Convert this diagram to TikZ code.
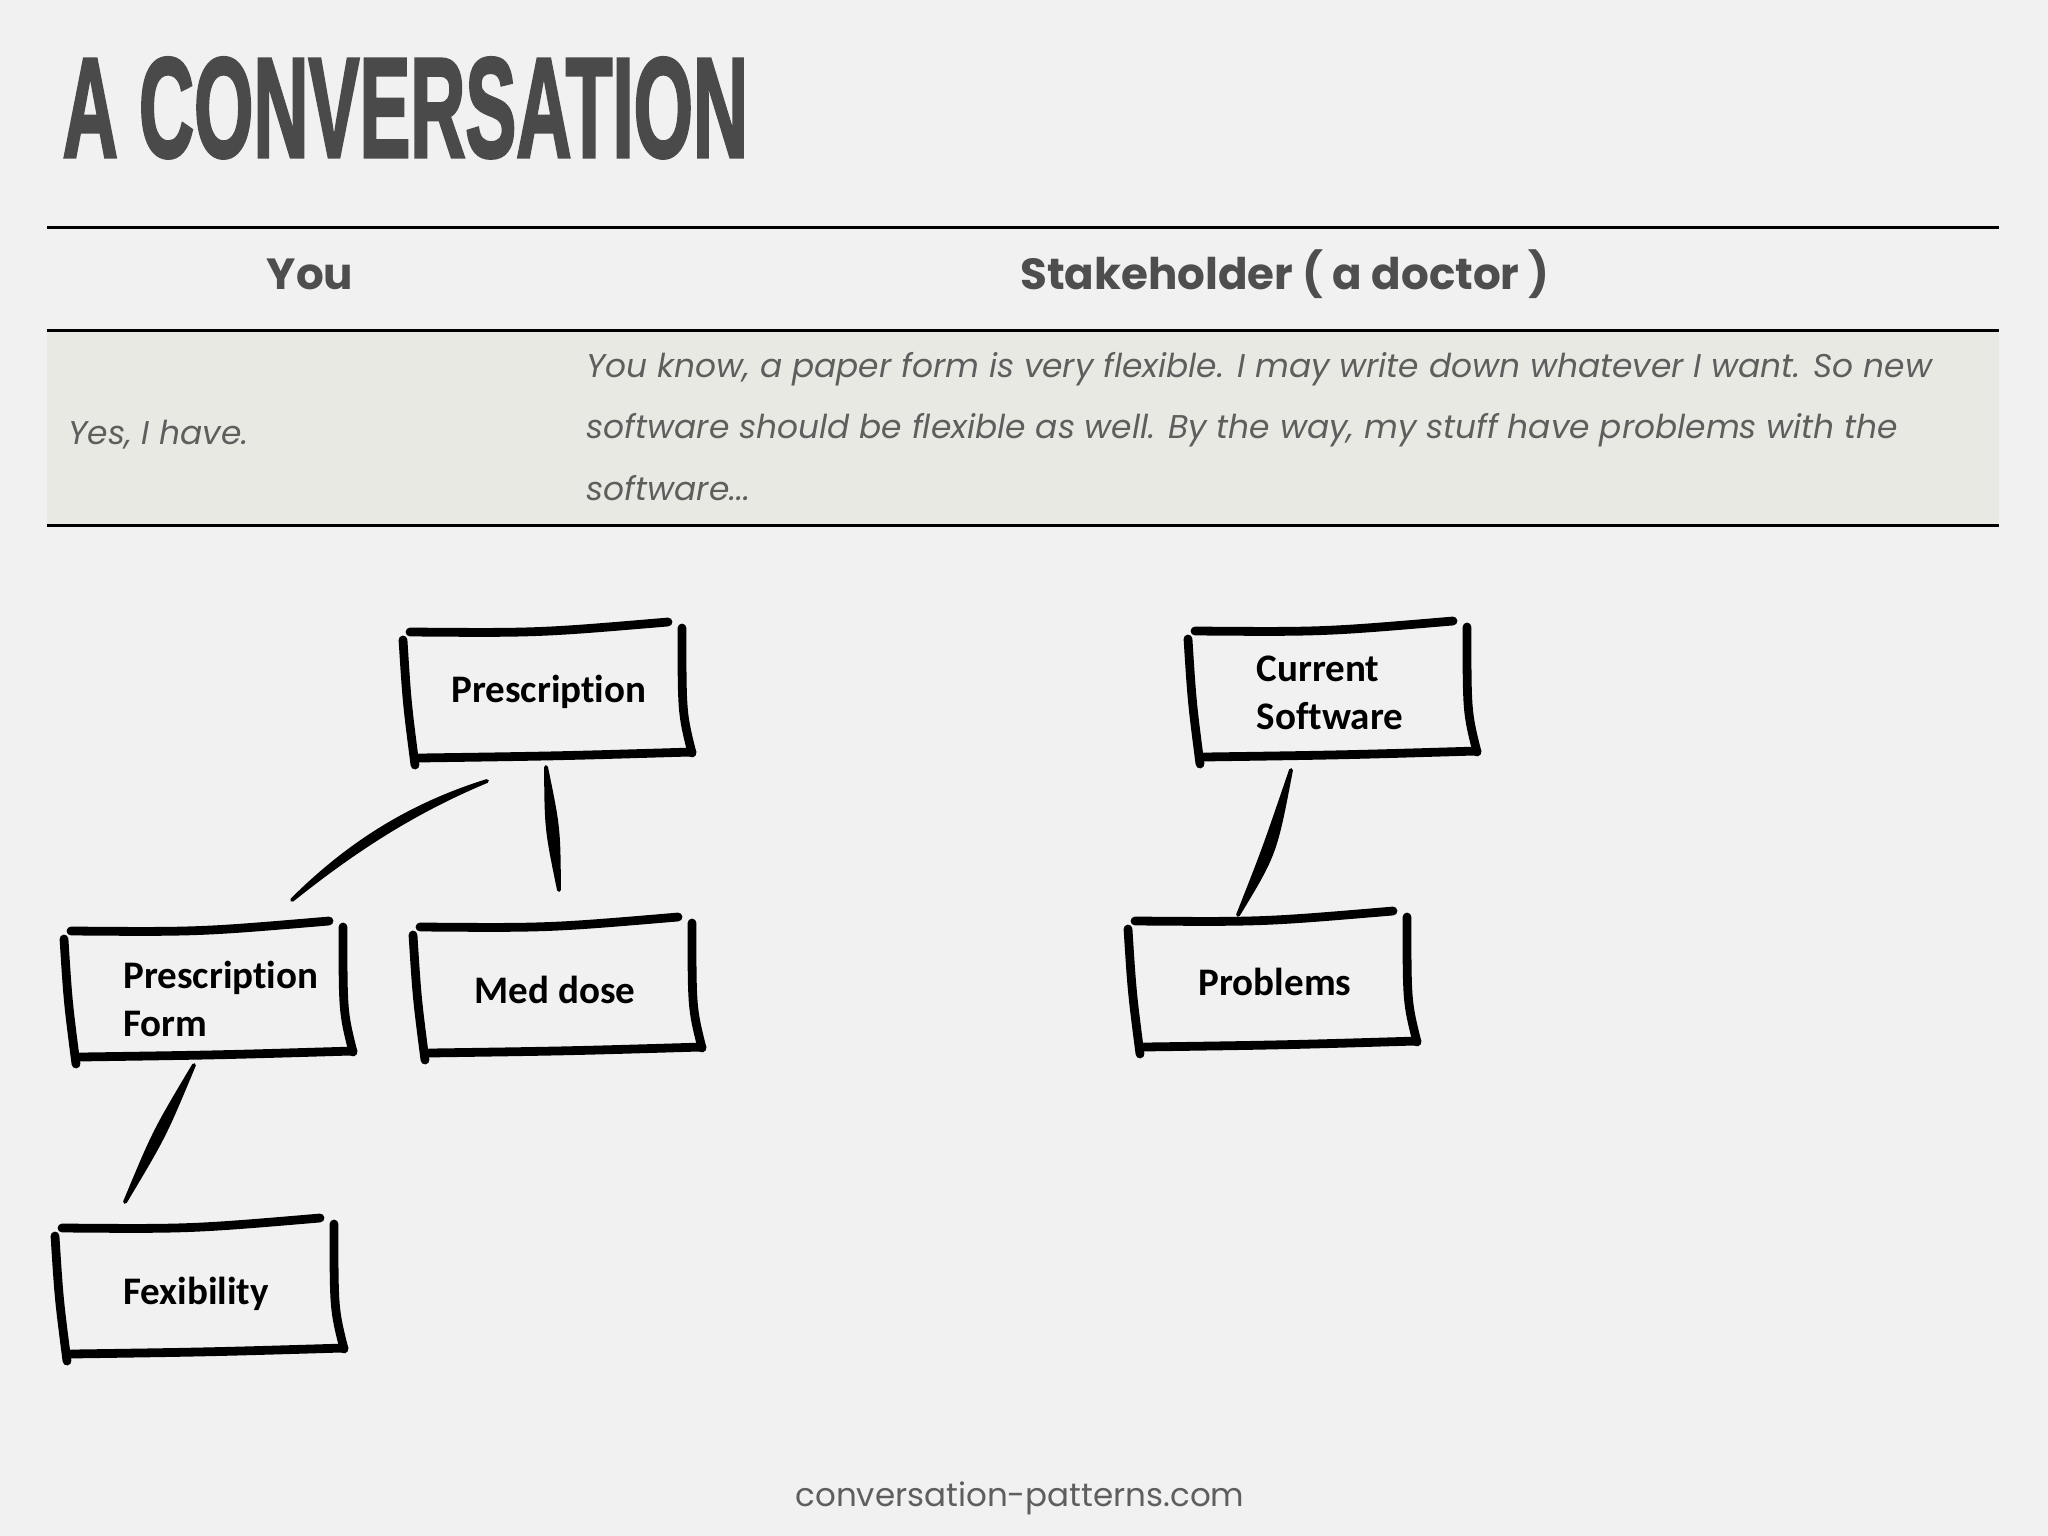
\documentclass[tikz,border=0pt]{standalone}
\usepackage{fontspec}
\usetikzlibrary{calc}
\newfontfamily\titlefont{Liberation Sans Bold}[FakeBold=2.5]
\newfontfamily\gothic{Poppins}
\newfontfamily\carlito{Carlito}[Ligatures={NoCommon,NoContextual}]
\definecolor{bg}{HTML}{F1F1F1}
\definecolor{rowbg}{HTML}{E9E9E4}
\definecolor{titlegray}{HTML}{4A4A4A}
\definecolor{headgray}{HTML}{4E4E4E}
\definecolor{bodygray}{HTML}{5E5E5E}
\tikzset{
  rule/.style={line width=0.85pt, black},
  head/.style={inner sep=0pt, text=headgray, font={\gothic\bfseries\fontsize{12.4pt}{15pt}\selectfont}},
  bodytxt/.style={inner sep=0pt, text=bodygray, font={\gothic\itshape\fontsize{9.35pt}{11pt}\selectfont}},
  foot/.style={inner sep=0pt, text=bodygray, font={\gothic\fontsize{9.25pt}{12pt}\selectfont}},
  boxtxt/.style={inner sep=0pt, text=black, align=left, font={\carlito\bfseries\fontsize{11.1pt}{13.65pt}\selectfont}},
  skline/.style={line width=2.5pt, line cap=round, black},
  conn/.style={fill=black, draw=black, line width=1.1pt, line join=round}
}
% hand-drawn box around node #1, box centre offset (#2,#3) from node centre
\newcommand\skbox[3]{%
  \draw[skline] ($(#1.center)+(#2,#3)+(-138,-61)$) .. controls ($(#1.center)+(#2,#3)+(-10,-60)$) .. ($(#1.center)+(#2,#3)+(120,-71)$);
  \draw[skline] ($(#1.center)+(#2,#3)+(-145,-53)$) .. controls ($(#1.center)+(#2,#3)+(-141,10)$) .. ($(#1.center)+(#2,#3)+(-133,72)$);
  \draw[skline] ($(#1.center)+(#2,#3)+(134,-65)$) .. controls ($(#1.center)+(#2,#3)+(134,20)$) .. ($(#1.center)+(#2,#3)+(144,60)$);
  \draw[skline] ($(#1.center)+(#2,#3)+(-129,65)$) .. controls ($(#1.center)+(#2,#3)+(10,63)$) .. ($(#1.center)+(#2,#3)+(144,59)$);
}
\begin{document}
\begin{tikzpicture}[x=0.01cm,y=-0.01cm]
\fill[bg] (0,0) rectangle (2048,1536);
\useasboundingbox (0,0) rectangle (2048,1536);

% title
\node[anchor=north west, inner sep=0pt, text=titlegray] (title) at (62,57)
  {\resizebox{6.85cm}{0.99cm}{\titlefont A CONVERSATION}};

% table
\fill[rowbg] (47,331) rectangle (1999,524);
\draw[rule] (47,227) -- (1999,227);
\draw[rule] (47,330) -- (1999,330);
\draw[rule] (47,525) -- (1999,525);

\node[head, anchor=base] (hyou) at (310,289) {You};
\node[head, anchor=base] (hstake) at (1285,289) {Stakeholder ( a doctor )};

\node[bodytxt, anchor=base west] (yes) at (68,444) {Yes, I have.};
\node[bodytxt, anchor=base west] (l1) at (586,377) {You know, a paper form is very flexible. I may write down whatever I want. So new};
\node[bodytxt, anchor=base west] (l2) at (586,438) {software should be flexible as well. By the way, my stuff have problems with the};
\node[bodytxt, anchor=base west] (l3) at (586,500) {software...};

% boxes
\node[boxtxt] (presc) at (549,692) {Prescription};
\node[boxtxt] (medd) at (555,990) {Med dose};
\node[boxtxt] (pform) at (221,999) {Prescription\\Form};
\node[boxtxt] (fex) at (196,1294) {Fexibility};
\node[boxtxt] (cursw) at (1330,693) {Current\\Software};
\node[boxtxt] (probl) at (1275,982) {Problems};

\skbox{presc}{-1}{1}
\skbox{medd}{3}{-2}
\skbox{pform}{-12}{-7}
\skbox{fex}{4}{-5}
\skbox{cursw}{3}{-1}
\skbox{probl}{-2}{0}

% connectors
\filldraw[conn] ($(presc.center)+(-62,89)$)
   .. controls ($(presc.center)+(-142,118)+(2.1,3.4)$) and ($(pform.center)+(126,-148)+(2.1,3.4)$) .. ($(pform.center)+(71,-99)$)
   .. controls ($(pform.center)+(126,-148)+(-2.1,-3.4)$) and ($(presc.center)+(-142,118)+(-2.1,-3.4)$) .. ($(presc.center)+(-62,89)$) -- cycle;
\filldraw[conn] ($(presc.center)+(-3,75)$) .. controls ($(presc.center)+(3.5,136.5)+(6,-0.6)$) .. ($(medd.center)+(4,-100)$)
   .. controls ($(presc.center)+(3.5,136.5)+(-6,0.6)$) .. ($(presc.center)+(-3,75)$) -- cycle;
\filldraw[conn] ($(pform.center)+(-27,66)$) .. controls ($(pform.center)+(-61.5,134.5)+(4.9,2.5)$) .. ($(fex.center)+(-71,-92)$)
   .. controls ($(pform.center)+(-61.5,134.5)+(-4.9,-2.5)$) .. ($(pform.center)+(-27,66)$) -- cycle;
\filldraw[conn] ($(cursw.center)+(-39,77)$) .. controls ($(cursw.center)+(-60.5,158.5)+(5.6,2.1)$) .. ($(probl.center)+(-37,-67)$)
   .. controls ($(cursw.center)+(-60.5,158.5)+(-5.6,-2.1)$) .. ($(cursw.center)+(-39,77)$) -- cycle;

% footer
\node[foot, anchor=base] (footer) at (1020,1506) {conversation-patterns.com};
\end{tikzpicture}
\end{document}
